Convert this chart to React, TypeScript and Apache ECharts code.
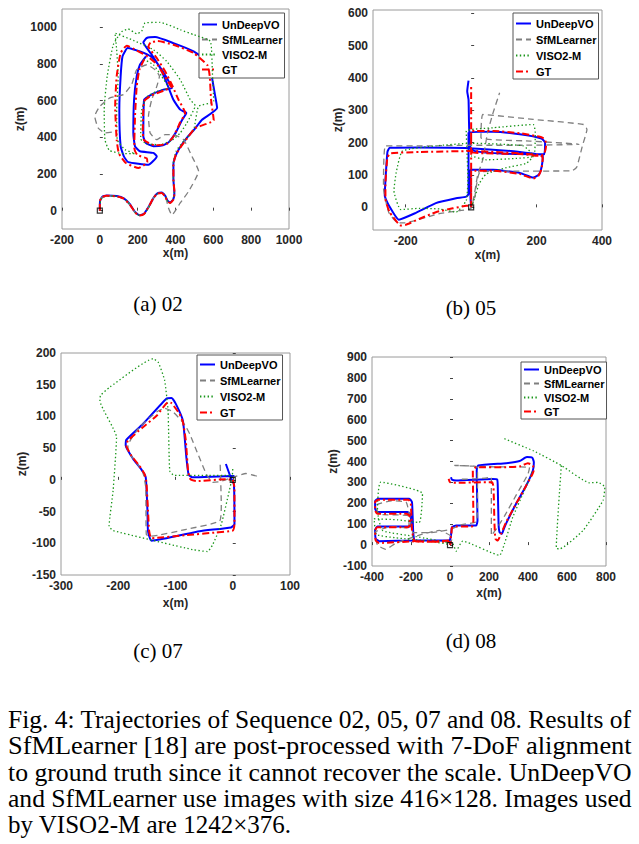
import React, { useEffect, useRef } from 'react';
import * as echarts from 'echarts';

const seriesNames = ['UnDeepVO', 'SfMLearner', 'VISO2-M', 'GT'];

// ---- Sequence 02 (x, z in metres) ----
const undeep02 = [[0,0],[1,52],[12,75],[35,83],[89,80],[127,67],[159,35],[186,-7],[209,-25],[234,-16],[262,28],[285,72],[306,96],[327,99],[345,82],[358,55],[372,45],[388,62],[394,96],[389,170],[389,255],[405,310],[432,358],[466,405],[501,445],[540,496],[620,560],[607,642],[588,751],[566,814],[496,869],[389,914],[292,947],[248,942],[230,918],[274,851],[319,778],[354,696],[389,605],[425,551],[457,533],[434,493],[402,427],[366,375],[333,356],[283,351],[244,369],[230,405],[234,605],[283,638],[336,660],[381,669],[354,724],[315,787],[274,838],[212,869],[147,887],[120,842],[110,733],[103,551],[110,351],[127,296],[150,265],[257,251],[301,296],[283,315],[212,324],[186,351],[177,424],[181,605],[195,733],[212,796],[244,842]];
const sfm02 = [[0,0],[0,51],[11,73],[35,82],[89,78],[127,65],[159,33],[186,-9],[209,-27],[234,-18],[260,24],[283,69],[304,93],[327,96],[349,69],[363,15],[381,-24],[425,42],[469,105],[522,215],[487,296],[443,387],[389,415],[345,415],[301,387],[266,424],[257,515],[274,605],[301,678],[315,733],[292,769],[248,796],[195,769],[168,687],[124,633],[53,615],[0,569],[-27,515],[-9,451],[27,424],[89,433]];
const viso02 = [[0,0],[4,55],[18,75],[71,80],[127,67],[163,29],[189,-13],[212,-27],[237,-16],[264,27],[287,75],[310,96],[333,96],[349,75],[361,47],[372,42],[388,64],[393,100],[389,169],[388,251],[403,324],[442,378],[496,441],[522,569],[602,596],[595,751],[584,924],[496,960],[425,987],[319,1027],[239,1024],[221,978],[195,965],[150,991],[115,976],[71,905],[39,733],[23,551],[27,387],[50,329],[124,311],[186,311],[133,333],[92,387],[89,551],[97,733],[89,878],[80,969],[177,929],[283,878],[354,814],[425,714],[478,605],[504,573],[460,478],[425,424],[381,384],[319,360],[248,365],[216,391],[221,551],[248,620],[301,651],[363,669],[327,733],[283,796],[230,827]];
const gt02 = [[0,0],[0,51],[11,73],[35,82],[89,78],[127,65],[159,33],[186,-9],[209,-27],[234,-18],[260,24],[283,69],[304,93],[327,96],[345,78],[358,51],[372,42],[389,60],[395,96],[389,169],[389,251],[402,305],[430,351],[469,405],[504,451],[602,493],[588,605],[581,733],[570,791],[496,860],[389,905],[306,925],[269,918],[257,896],[301,833],[345,760],[377,696],[416,605],[451,533],[425,482],[389,405],[354,364],[292,356],[234,384],[227,424],[234,596],[274,629],[336,654],[377,673],[345,729],[304,796],[257,838],[195,874],[142,900],[110,860],[89,733],[81,569],[89,387],[101,311],[138,260],[204,233],[251,264],[248,285],[198,304],[182,342],[186,514],[195,678],[209,769],[234,824]];

// ---- Sequence 05 ----
const undeep05 = [[0,0],[-2,31],[-2,116],[67,116],[149,106],[190,92],[207,101],[216,128],[219,159],[149,171],[-5,183],[-159,185],[-249,184],[-256,171],[-264,36],[-251,5],[-221,-38],[-169,-17],[-108,13],[-46,28],[-15,33],[-8,41],[-8,231],[67,234],[149,226],[215,213],[226,200],[223,164],[0,179],[-8,333],[-12,359],[-8,392]];
const sfm05 = [[0,0],[10,25],[28,110],[150,112],[308,113],[323,125],[340,190],[354,241],[344,256],[190,272],[36,287],[30,215],[180,205],[330,195],[160,192],[0,192],[-130,190],[-262,190],[-268,60],[-252,-15],[-226,-47],[-205,-48],[-100,-20],[-36,-10],[0,-3],[20,100],[36,149],[50,230],[67,292],[87,354]];
const viso05 = [[0,0],[13,36],[24,72],[46,103],[108,123],[169,136],[190,159],[159,190],[0,198],[-108,190],[-210,174],[-229,108],[-236,51],[-215,-7],[-159,-3],[-97,-5],[-46,-15],[-15,21],[-10,87],[-13,179],[-15,236],[67,246],[190,256],[196,231],[192,159],[131,151],[46,147],[0,159]];
const gt05 = [[0,0],[0,113],[67,113],[149,103],[190,89],[205,97],[215,118],[219,154],[210,161],[149,167],[0,174],[-159,171],[-246,167],[-256,154],[-262,67],[-262,26],[-249,-15],[-215,-56],[-200,-54],[-159,-36],[-108,-15],[-56,-3],[-15,5],[0,7],[0,236],[67,236],[149,229],[210,218],[226,210],[229,190],[223,164],[210,159],[149,165],[0,172],[0,372]];

// ---- Sequence 07 ----
const undeep07 = [[-12,25],[-4,5],[2,-7],[3,-70],[-3,-75],[-58,-81],[-142,-96],[-148,-81],[-149,-49],[-152,4],[-160,17],[-174,33],[-187,54],[-186,63],[-157,88],[-116,128],[-107,129],[-99,119],[-87,93],[-81,35],[-77,8],[-70,4],[-3,6],[3,6]];
const sfm07 = [[42,6],[23,10],[0,4],[-23,-3],[-35,-4],[-46,9],[-61,41],[-75,72],[-84,87],[-104,107],[-119,113],[-133,107],[-163,83],[-183,54],[-183,46],[-168,27],[-157,12],[-152,-12],[-151,-86],[-145,-89],[-81,-78],[-23,-65],[-20,-39],[-22,25]];
const viso07 = [[0,17],[-1,4],[-6,-17],[-20,-70],[-35,-102],[-44,-113],[-70,-110],[-209,-80],[-216,-73],[-209,-17],[-203,67],[-232,125],[-231,133],[-215,146],[-139,191],[-130,185],[-119,157],[-113,109],[-110,14],[-102,7],[0,7]];
const gt07 = [[0,0],[3,-12],[3,-70],[0,-80],[-29,-83],[-81,-87],[-142,-92],[-146,-81],[-148,-49],[-151,-2],[-154,9],[-163,22],[-177,38],[-186,54],[-183,62],[-157,83],[-133,101],[-113,122],[-107,121],[-93,104],[-87,91],[-82,62],[-78,14],[-74,1],[-64,-2],[-12,1],[0,0]];

// ---- Sequence 08 ----
const undeep08 = [[0,0],[5,19],[-175,22],[-363,19],[-381,30],[-384,73],[-372,89],[-206,89],[-199,118],[-206,150],[-218,158],[-372,158],[-384,174],[-384,211],[-367,222],[-209,222],[-195,206],[-189,70],[-183,26],[-158,22],[-3,22],[5,46],[10,86],[31,94],[134,94],[141,118],[137,357],[144,381],[288,392],[357,402],[394,421],[422,418],[430,397],[425,357],[391,285],[339,198],[291,110],[276,78],[266,54],[254,62],[249,102],[245,278],[242,314],[219,316],[31,309],[10,313],[5,325]];
const sfm08 = [[0,0],[12,37],[-55,70],[-150,50],[-280,8],[-330,-20],[-372,0],[-385,60],[-300,88],[-210,82],[-212,140],[-365,148],[-380,190],[-300,212],[-225,205],[-205,130],[-190,60],[-100,60],[0,75],[60,98],[135,112],[141,200],[141,373],[22,381],[200,375],[408,372],[400,340],[340,240],[280,140],[240,80],[212,46],[212,200],[212,324],[150,318],[60,315]];
const viso08a = [[5,2],[-106,19],[-278,35],[-377,51],[-389,126],[-269,121],[-158,108],[-141,246],[-355,301],[-372,166],[-346,70],[-175,41],[14,6],[31,-29],[65,19],[254,-49],[279,6],[322,134],[382,262],[425,357]];
const viso08b = [[279,509],[430,450],[571,381],[716,298],[759,300],[794,278],[785,214],[682,70],[562,-18],[545,-15],[571,381]];
const gt08 = [[0,0],[5,14],[-175,18],[-363,10],[-381,22],[-384,70],[-372,85],[-213,85],[-206,110],[-209,142],[-223,150],[-372,150],[-384,166],[-384,206],[-367,217],[-213,217],[-201,198],[-195,70],[-183,22],[-158,16],[-3,22],[7,46],[10,83],[31,89],[113,89],[120,118],[117,357],[134,373],[288,373],[357,376],[399,392],[425,381],[429,357],[391,285],[339,198],[288,110],[262,54],[245,22],[233,30],[228,102],[223,278],[216,301],[185,301],[31,298],[0,301],[-7,317]];

const startPoint = [0, 0];

// ---- tick labels ----
const ticks02X = [-200, 0, 200, 400, 600, 800, 1000];
const ticks02Z = [0, 200, 400, 600, 800, 1000];
const ticks05X = [-200, 0, 200, 400];
const ticks05Z = [0, 100, 200, 300, 400, 500, 600];
const ticks07X = [-300, -200, -100, 0, 100];
const ticks07Z = [-150, -100, -50, 0, 50, 100, 150, 200];
const ticks08X = [-400, -200, 0, 200, 400, 600, 800];
const ticks08Z = [-100, 0, 100, 200, 300, 400, 500, 600, 700, 800, 900];

const subCaptions = ['(a) 02', '(b) 05', '(c) 07', '(d) 08'];
const captionLines = [
  'Fig. 4: Trajectories of Sequence 02, 05, 07 and 08. Results of',
  'SfMLearner [18] are post-processed with 7-DoF alignment',
  'to ground truth since it cannot recover the scale. UnDeepVO',
  'and SfMLearner use images with size 416\u00d7128. Images used',
  'by VISO2-M are 1242\u00d7376.',
];

const SANS = '"Liberation Sans", Arial, sans-serif';
const SERIF = '"Liberation Serif", "Times New Roman", serif';

const panels = [
  { grid: { left: 62, top: 9, width: 227, height: 220 }, x: [-200, 1000], z: [-100, 1100], xTicks: ticks02X, zTicks: ticks02Z, xGap: 18, zGap: 33,
    legend: { left: 199, top: 13, gap: 2, pad: [5, 2, 2, 2] }, tracks: [[undeep02], [sfm02], [viso02], [gt02]], cap: { x: 158, y: 304 } },
  { grid: { left: 373, top: 10, width: 229, height: 220 }, x: [-300, 400], z: [-70, 610], xTicks: ticks05X, zTicks: ticks05Z, xGap: 19, zGap: 27,
    legend: { left: 513, top: 13, gap: 3, pad: [4, 2, 1, 2] }, tracks: [[undeep05], [sfm05], [viso05], [gt05]], cap: { x: 471, y: 308 } },
  { grid: { left: 61, top: 353, width: 229, height: 222 }, x: [-300, 100], z: [-150, 200], xTicks: ticks07X, zTicks: ticks07Z, xGap: 22, zGap: 31,
    legend: { left: 197, top: 355, gap: 3, pad: [3, 2, 1, 2] }, tracks: [[undeep07], [sfm07], [viso07], [gt07]], cap: { x: 158, y: 651 } },
  { grid: { left: 372, top: 357, width: 234, height: 209 }, x: [-400, 800], z: [-100, 900], xTicks: ticks08X, zTicks: ticks08Z, xGap: 21, zGap: 27,
    legend: { left: 521, top: 362, gap: 1, pad: [1, 2, 1, 2] }, tracks: [[undeep08], [sfm08], [viso08a, viso08b], [gt08]], cap: { x: 471, y: 641 } },
];

const lineStyles = [
  { color: '#0000ff', width: 2, type: 'solid' },
  { color: '#7f7f7f', width: 1.3, type: [6, 4] },
  { color: '#1a961a', width: 1.3, type: [1.4, 2.4] },
  { color: '#ff0000', width: 2, type: [7, 3, 2, 3] },
];

function measure(text: string, font: string): number {
  const c = document.createElement('canvas').getContext('2d');
  if (!c) return text.length * 10;
  c.font = font;
  return c.measureText(text).width;
}

export default function App() {
  const ref = useRef<HTMLDivElement>(null);
  useEffect(() => {
    if (!ref.current) return;
    const chart = echarts.init(ref.current, undefined, { renderer: 'svg' });
    const labelStyle = { fontFamily: SANS, fontWeight: 'bold', fontSize: 12, color: '#262626' };
    const fmt = (v: number) => String(v);

    const grids: any[] = [];
    const xAxes: any[] = [];
    const yAxes: any[] = [];
    const legends: any[] = [];
    const series: any[] = [];

    panels.forEach((p, i) => {
      grids.push({ ...p.grid, show: true, borderColor: '#9a9a9a', borderWidth: 1, backgroundColor: '#fff', containLabel: false });
      xAxes.push({
        gridIndex: i, type: 'value', min: p.x[0], max: p.x[1],
        axisLine: { show: false },
        axisTick: { show: true, inside: true, length: 3, customValues: p.xTicks, lineStyle: { color: '#444' } },
        axisLabel: { customValues: p.xTicks, margin: 5, formatter: fmt, ...labelStyle },
        splitLine: { show: false },
        name: 'x(m)', nameLocation: 'middle', nameGap: p.xGap, nameTextStyle: { ...labelStyle },
      });
      yAxes.push({
        gridIndex: i, type: 'value', min: p.z[0], max: p.z[1],
        axisLine: { show: false },
        axisTick: { show: true, inside: true, length: 3, customValues: p.zTicks, lineStyle: { color: '#444' } },
        axisLabel: { customValues: p.zTicks, margin: 5, formatter: fmt, ...labelStyle },
        splitLine: { show: false },
        name: 'z(m)', nameLocation: 'middle', nameGap: p.zGap, nameTextStyle: { ...labelStyle },
      });
      legends.push({
        orient: 'vertical', left: p.legend.left, top: p.legend.top,
        itemWidth: 15, itemHeight: 10, itemGap: p.legend.gap, padding: p.legend.pad,
        borderColor: '#555', borderWidth: 1, backgroundColor: '#fff', borderRadius: 0,
        selectedMode: false, data: seriesNames,
        itemStyle: { color: 'rgba(0,0,0,0)', borderWidth: 0, opacity: 0 },
        textStyle: { fontFamily: SANS, fontWeight: 'bold', fontSize: 11, color: '#000', lineHeight: 13 },
      });
      p.tracks.forEach((segs, s) => {
        segs.forEach((seg) => {
          series.push({
            type: 'line', name: seriesNames[s], xAxisIndex: i, yAxisIndex: i, data: seg,
            symbol: 'none', showSymbol: false, smooth: 0.15, silent: true, z: 2 + s,
            lineStyle: { ...lineStyles[s] }, itemStyle: { color: lineStyles[s].color },
            emphasis: { disabled: true },
          });
        });
      });
      series.push({
        type: 'scatter', xAxisIndex: i, yAxisIndex: i, data: [startPoint], symbol: 'rect', symbolSize: 5,
        itemStyle: { color: 'rgba(0,0,0,0)', borderColor: '#000', borderWidth: 1.2 }, z: 10, silent: true,
      });
    });

    const graphics: any[] = [];
    panels.forEach((p, i) => {
      graphics.push({
        type: 'text', x: p.cap.x, y: p.cap.y,
        style: { text: subCaptions[i], x: 0, y: 0, font: `21px ${SERIF}`, fill: '#000', textAlign: 'center', textVerticalAlign: 'middle', align: 'center', verticalAlign: 'middle' },
      });
    });
    const capFont = `25px ${SERIF}`;
    const capLeft = 8;
    const capWidth = 624;
    const capY = [720, 746, 772, 798, 824];
    captionLines.forEach((line, k) => {
      const w = measure(line, capFont);
      const sx = k < captionLines.length - 1 && w > 0 ? capWidth / w : 1;
      graphics.push({
        type: 'text', x: capLeft, y: capY[k], scaleX: sx,
        style: { text: line, x: 0, y: 0, font: capFont, fill: '#000', textAlign: 'left', textVerticalAlign: 'middle', align: 'left', verticalAlign: 'middle' },
      });
    });

    chart.setOption({
      animation: false,
      backgroundColor: '#fff',
      grid: grids,
      xAxis: xAxes,
      yAxis: yAxes,
      legend: legends,
      series,
      graphic: { elements: graphics },
    });
    return () => chart.dispose();
  }, []);

  return <div ref={ref} style={{ position: 'absolute', left: 0, top: 0, width: 639, height: 844, background: '#fff' }} />;
}
